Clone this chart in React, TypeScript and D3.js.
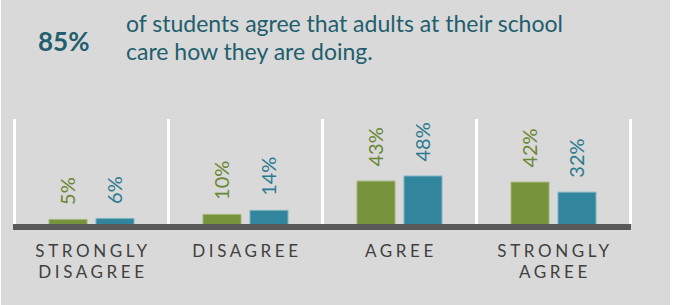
import { useEffect, useRef } from 'react';
import * as d3 from 'd3';

const width = 686;
const height = 305;

const categories = ['STRONGLY DISAGREE', 'DISAGREE', 'AGREE', 'STRONGLY AGREE'];
const categoryLines = [['STRONGLY', 'DISAGREE'], ['DISAGREE'], ['AGREE'], ['STRONGLY', 'AGREE']];
const seriesNames = ['green', 'blue'];
const greenValues = [5, 10, 43, 42];
const blueValues = [6, 14, 48, 32];

const barColors = ['#77933c', '#31859c'];
const barEdges = ['#a3b77a', '#7fb3c2'];
const labelColors = ['#6a8733', '#2c7a8f'];

const headline = '85%';
const headText = ['of students agree that adults at their school', 'care how they are doing.'];

export default function App() {
    const ref = useRef<SVGSVGElement>(null);

    useEffect(() => {
        const svg = d3.select(ref.current);
        svg.selectAll('*').remove();

        // panel background
        svg.append('rect').attr('x', 1).attr('y', 0).attr('width', 669).attr('height', height).attr('fill', '#d9d9d9');

        // heading
        svg.append('text')
            .attr('x', 38)
            .attr('y', 51)
            .attr('font-family', 'Lato, sans-serif')
            .attr('font-weight', 700)
            .attr('font-size', 26)
            .attr('fill', '#225e6d')
            .text(headline);

        svg.append('g')
            .selectAll('text')
            .data(headText)
            .join('text')
            .attr('x', 126)
            .attr('y', (_d, i) => 32 + i * 28)
            .attr('font-family', 'Lato, sans-serif')
            .attr('font-size', 23)
            .attr('fill', '#225e6d')
            .text((d) => d);

        const x0 = d3.scaleBand<string>().domain(categories).range([14.5, 630.5]);
        const x1 = d3
            .scaleBand<string>()
            .domain(seriesNames)
            .range([x0.bandwidth() / 2 - 43, x0.bandwidth() / 2 + 43])
            .paddingInner(0.17);
        const y = d3.scaleLinear().domain([0, 100]).range([224, 123]);

        const rows = categories.map((c, i) => ({ cat: c, vals: [greenValues[i], blueValues[i]] }));

        // white separators
        const seps = [...categories.map((c) => x0(c)!), x0.range()[1]];
        svg.append('g')
            .selectAll('rect')
            .data(seps)
            .join('rect')
            .attr('x', (d) => d - 1.5)
            .attr('y', 119)
            .attr('width', 3)
            .attr('height', 105)
            .attr('fill', '#ffffff');

        const groups = svg
            .append('g')
            .selectAll('g')
            .data(rows)
            .join('g')
            .attr('transform', (d) => `translate(${x0(d.cat)},0)`);

        groups
            .selectAll('rect')
            .data((d) => d.vals.map((v, j) => ({ v, s: seriesNames[j], j })))
            .join('rect')
            .attr('x', (d) => x1(d.s)! + 0.5)
            .attr('y', (d) => y(d.v) + 0.5)
            .attr('width', x1.bandwidth() - 1)
            .attr('height', (d) => y(0) - y(d.v))
            .attr('fill', (d) => barColors[d.j])
            .attr('stroke', (d) => barEdges[d.j])
            .attr('stroke-width', 1);

        groups
            .selectAll('text')
            .data((d) => d.vals.map((v, j) => ({ v, s: seriesNames[j], j })))
            .join('text')
            .attr('transform', (d) => `translate(${x1(d.s)! + x1.bandwidth() / 2},${y(d.v) - 14}) rotate(-90)`)
            .attr('dy', '0.36em')
            .attr('font-family', 'Lato, sans-serif')
            .attr('font-size', 20)
            .attr('fill', (d) => labelColors[d.j])
            .text((d) => `${d.v}%`);

        // baseline
        svg.append('rect').attr('x', 13).attr('y', 224).attr('width', 618).attr('height', 6).attr('fill', '#595959');

        // category labels
        const cats = svg
            .append('g')
            .selectAll('text')
            .data(categories)
            .join('text')
            .attr('x', (d) => x0(d)! + x0.bandwidth() / 2 + 1.5)
            .attr('y', 257)
            .attr('text-anchor', 'middle')
            .attr('font-family', 'Lato, sans-serif')
            .attr('font-size', 17)
            .attr('letter-spacing', 3.6)
            .attr('fill', '#404040');

        cats.selectAll('tspan')
            .data((_d, i) => categoryLines[i])
            .join('tspan')
            .attr('x', function () {
                return (this.parentNode as SVGTextElement).getAttribute('x');
            })
            .attr('dy', (_d, i) => (i === 0 ? 0 : 21))
            .text((d) => d);
    }, []);

    return (
        <svg
            ref={ref}
            width={width}
            height={height}
            style={{ position: 'absolute', left: 0, top: 0, display: 'block', background: '#ffffff' }}
        />
    );
}
